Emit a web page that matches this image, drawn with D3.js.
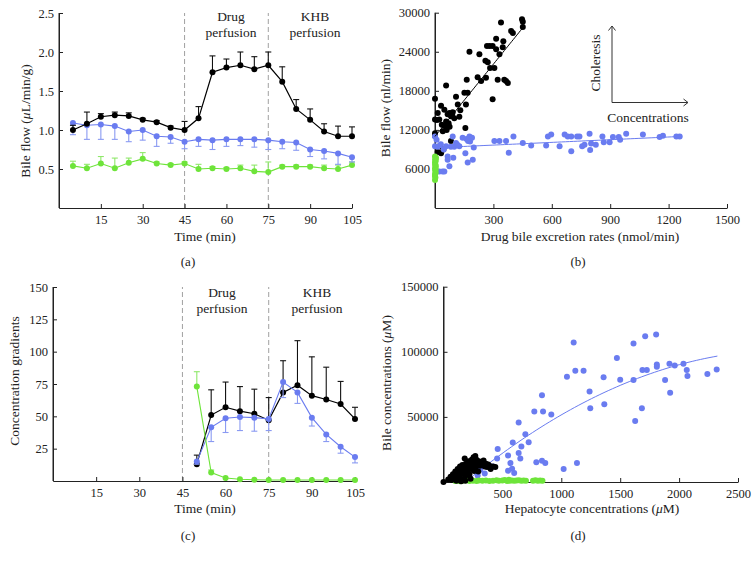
<!DOCTYPE html>
<html><head><meta charset="utf-8">
<script src="https://cdn.jsdelivr.net/npm/d3@7/dist/d3.min.js"></script>
<style>
body{margin:0;background:#fff;}
svg{display:block;background:#fff;}
text{font-family:"Liberation Serif","Times New Roman",serif;fill:#222;}
</style></head><body>
<svg id="chart" width="756" height="562"></svg>
<script>
// ---------- DATA ----------
// Panel (a): bile flow over time
const timesA = [5,10,15,20,25,30,35,40,45,50,55,60,65,70,75,80,85,90,95,100,105];
const blackA = [1.00,1.08,1.17,1.19,1.18,1.13,1.10,1.03,1.00,1.15,1.74,1.80,1.83,1.78,1.83,1.62,1.27,1.13,0.98,0.92,0.92];
const blackAerr = [0.06,0.15,0.04,0.04,0.04,0.02,0.02,0.02,0.11,0.15,0.21,0.11,0.17,0.16,0.17,0.19,0.12,0.14,0.10,0.13,0.12];
const blueA = [1.09,1.06,1.07,1.05,0.98,1.00,0.92,0.91,0.85,0.88,0.87,0.88,0.88,0.88,0.87,0.85,0.84,0.75,0.73,0.70,0.65];
const blueAerr = [0.15,0.18,0.19,0.17,0.13,0.13,0.13,0.08,0.09,0.09,0.12,0.09,0.08,0.10,0.12,0.09,0.10,0.09,0.10,0.14,0.06];
const greenA = [0.54,0.51,0.57,0.51,0.58,0.63,0.57,0.55,0.57,0.50,0.51,0.50,0.51,0.47,0.46,0.53,0.53,0.53,0.51,0.50,0.55];
const greenAerr = [0.06,0.05,0.09,0.13,0.06,0.08,0.02,0.02,0.02,0.06,0.02,0.02,0.04,0.08,0.13,0.02,0.02,0.02,0.04,0.05,0.04];
const xTicksA = [15,30,45,60,75,90,105];
const yTicksA = [0.5,1.0,1.5,2.0,2.5];

// Panel (b): bile flow vs drug excretion rate
const blackB = [[0,16800],[0,13600],[0,11500],[0,11100],[14,14600],[22,13600],[31,15700],[22,9500],[14,8600],[31,8400],[40,11800],[48,12600],[48,15100],[57,18800],[57,13300],[65,14400],[70,13000],[74,14600],[82,14100],[82,10300],[91,14700],[99,13800],[108,17100],[117,15900],[43,9000],[60,12000],[151,17700],[159,15900],[156,12300],[163,19700],[168,17700],[177,24000],[219,20100],[228,23600],[237,19500],[262,20000],[259,22600],[267,24900],[281,24900],[271,22400],[283,21500],[296,24900],[305,21500],[296,16700],[314,24400],[314,26000],[322,19700],[331,23600],[339,28500],[348,24700],[351,25600],[356,19700],[365,19500],[374,19200],[391,27200],[400,26900],[447,29000],[451,28600],[451,27800],[130,15000],[88,14300],[75,12500],[35,12800],[10,13500],[125,14000]];
const blueB = [[0,11000],[0,9500],[8,10500],[14,9400],[22,5600],[39,5600],[48,5600],[57,9500],[65,7900],[65,7400],[74,6400],[82,9400],[91,11000],[94,7700],[99,9400],[108,10000],[125,9500],[142,10800],[156,8400],[162,10600],[168,7000],[177,11000],[180,10200],[190,10800],[194,7400],[199,9300],[305,10300],[331,10300],[365,10300],[379,8500],[403,11000],[451,10000],[494,9600],[571,9600],[580,11000],[597,11300],[640,9500],[666,11300],[682,11000],[700,11000],[700,8700],[730,11000],[742,11000],[756,9500],[768,9700],[794,11400],[797,8900],[802,9900],[826,9700],[860,11000],[867,10100],[897,10100],[914,10900],[944,10900],[951,10500],[982,11400],[1068,11300],[1154,10900],[1171,11100],[1240,11000],[1257,11000],[30,9800],[45,9000],[115,9700],[170,10300]];
const greenB = [[0,4300],[2,4700],[0,5100],[3,5500],[1,5800],[0,6100],[4,6400],[2,6700],[0,7000],[3,7200],[1,7500],[5,7700],[0,7900],[2,5300],[4,6000],[1,6600],[3,7400],[0,4900]];
const fitBlackB = {from:0, to:455, coef:[11000, 37]};      // linear fit
const fitBlueB = {from:0, to:1257, coef:[9250, 1.38]};     // linear fit
const xTicksB = [300,600,900,1200,1500];
const yTicksB = [6000,12000,18000,24000,30000];

// Panel (c): concentration gradients
const timesC = [50,55,60,65,70,75,80,85,90,95,100,105];
const blackC = [13,51,57,54,52,47,68.5,74,66,63,59.5,48];
const blackCerr = [7,19.5,19.5,19,19,17.5,24.5,34.5,30,25,17.5,9];
const blueC = [15,41.5,48.5,49.5,49,48,76.5,68.5,49,36,26.5,18.5];
const blueCerr = [2,11,11,10.5,10.5,9,12,8.5,6.5,5.5,5,4.5];
const greenC = [73,6.5,2.3,1.3,1,0.8,0.8,0.8,0.8,0.8,0.8,0.8];
const greenCerr = [11.5,2,0,0,0,0,0,0,0,0,0,0];
const xTicksC = [15,30,45,60,75,90,105];
const yTicksC = [25,50,75,100,125,150];

// Panel (d): bile vs hepatocyte concentrations
const blueD = [[1105,107100],[1119,85500],[1189,85500],[1048,80900],[1359,80400],[1472,95200],[1500,78500],[1613,106400],[1613,78300],[1712,112000],[1689,86000],[1726,86000],[1805,113300],[1811,90300],[1811,88500],[1918,90800],[1963,89500],[1881,78300],[1924,68600],[2037,90800],[2065,86000],[2071,81400],[2240,82900],[2319,86500],[1240,69600],[1246,56600],[1365,59700],[1684,56600],[1627,46900],[836,66600],[771,54100],[845,54100],[915,51800],[695,36700],[723,30600],[661,27300],[638,45700],[588,30400],[638,22200],[652,18100],[548,20400],[460,25300],[455,18100],[568,14500],[582,10200],[548,8700],[600,7000],[788,15100],[836,16300],[864,14500],[1020,9900],[1133,14500],[313,9400],[350,6500],[290,5000],[420,12000]];
const blackD = [[0,0],[40,2000],[60,4000],[70,1500],[80,6000],[90,3000],[100,8000],[105,5000],[110,1000],[120,10000],[125,7000],[130,3500],[140,12000],[145,9000],[150,6000],[155,2000],[160,13000],[170,10500],[175,7500],[180,18000],[185,4500],[190,14000],[200,11000],[205,8000],[210,16000],[215,12500],[220,6000],[230,14500],[235,10000],[240,17000],[250,13000],[255,19000],[260,8500],[265,15500],[270,20000],[275,11500],[280,17000],[290,14000],[295,8000],[300,16000],[310,12500],[320,15000],[330,13500],[340,16500],[350,12000],[360,14000],[370,11500],[380,13500],[390,12500],[400,10000],[420,12000],[440,11500],[230,2500],[185,1000],[150,500]];
const greenD = [[100,800],[120,1200],[140,600],[160,1000],[190,1400],[220,800],[250,1000],[280,700],[300,1200],[330,900],[360,1100],[390,800],[420,1000],[450,1300],[470,900],[500,1100],[520,1500],[540,800],[555,1800],[560,1000],[580,1200],[600,900],[620,1100],[640,1400],[660,1000],[680,1200],[700,900],[760,1000],[780,1300],[800,900],[820,1100],[840,1000]];
const fitBlueD = {from:186, to:2325, coef:[-14300, 79.5, -0.01366]}; // quadratic fit
const xTicksD = [500,1000,1500,2000,2500];
const yTicksD = [50000,100000,150000];

// ---------- STYLE ----------
const C = {black:"#000", blue:"#6a7cf0", blueErr:"#8a9af2", green:"#6ee43a", greenErr:"#8fe86a", axis:"#222", dash:"#a0a0a0"};
const R = 3;

const svg = d3.select("#chart");

function axes(x, y, xt, yt, yfmt){
  const g = svg.append("g");
  const gx = g.append("g").attr("transform",`translate(0,${y.range()[0]})`)
    .call(d3.axisBottom(x).tickValues(xt).tickSize(-4).tickSizeOuter(0).tickPadding(7).tickFormat(d3.format("d")));
  const gy = g.append("g").attr("transform",`translate(${x.range()[0]},0)`)
    .call(d3.axisLeft(y).tickValues(yt).tickSize(-4).tickSizeOuter(0).tickPadding(5).tickFormat(yfmt));
  [gx,gy].forEach(a=>{
    a.attr("font-family",null).attr("font-size",null);
    a.selectAll("path,line").attr("stroke",C.axis).attr("stroke-width",1);
    a.selectAll("text").style("font-size","12.5px").attr("fill","#222");
  });
  g.append("line").attr("x1",x.range()[0]).attr("x2",x.range()[0]).attr("y1",y.range()[0]).attr("y2",y.range()[1]).attr("stroke",C.axis);
}

function series(x, y, times, vals, errs, dir, col, errCol, lw){
  const g = svg.append("g");
  errs.forEach((e,i)=>{
    if(e<=0) return;
    const cx = x(times[i]), y0 = y(vals[i]), y1 = y(vals[i]+dir*e);
    g.append("line").attr("x1",cx).attr("x2",cx).attr("y1",y0).attr("y2",y1).attr("stroke",errCol).attr("stroke-width",1.1);
    g.append("line").attr("x1",cx-3).attr("x2",cx+3).attr("y1",y1).attr("y2",y1).attr("stroke",errCol).attr("stroke-width",1.1);
  });
  g.append("path").datum(times.map((t,i)=>[t,vals[i]]))
    .attr("d",d3.line().x(d=>x(d[0])).y(d=>y(d[1])))
    .attr("fill","none").attr("stroke",col).attr("stroke-width",lw);
  g.selectAll("circle").data(times.map((t,i)=>[t,vals[i]])).join("circle")
    .attr("cx",d=>x(d[0])).attr("cy",d=>y(d[1])).attr("r",R).attr("fill",col);
}

function scatter(x, y, pts, col){
  svg.append("g").selectAll("circle").data(pts).join("circle")
    .attr("cx",d=>x(d[0])).attr("cy",d=>y(d[1])).attr("r",R).attr("fill",col);
}

function fit(x, y, f, col, lw){
  const xs = d3.range(60+1).map(i=>f.from + (f.to-f.from)*i/60);
  const pts = xs.map(v=>[v, f.coef.reduce((s,c,k)=>s+c*Math.pow(v,k),0)]);
  svg.append("path").datum(pts).attr("d",d3.line().x(d=>x(d[0])).y(d=>y(d[1])))
    .attr("fill","none").attr("stroke",col).attr("stroke-width",lw);
}

function vdash(x, y, t){
  svg.append("line").attr("x1",x(t)).attr("x2",x(t)).attr("y1",y.range()[0]).attr("y2",y.range()[1])
    .attr("stroke",C.dash).attr("stroke-width",1).attr("stroke-dasharray","5,3");
}

function text(x, y, s, opts={}){
  const t = svg.append("text").attr("x",x).attr("y",y).attr("text-anchor",opts.anchor||"middle")
    .style("font-size",(opts.size||13.5)+"px");
  if(opts.rotate) t.attr("transform",`rotate(-90,${x},${y})`);
  const parts = s.split("μ");
  parts.forEach((p,i)=>{
    if(i>0) t.append("tspan").style("font-style","italic").text("μ");
    t.append("tspan").text(p);
  });
  return t;
}

// ---------- PANEL (a) ----------
{
  const x = d3.scaleLinear().domain([0,105]).range([59,352]);
  const y = d3.scaleLinear().domain([0,2.5]).range([208,13]);
  vdash(x,y,45); vdash(x,y,75);
  axes(x,y,xTicksA,yTicksA,d3.format(".1f"));
  series(x,y,timesA,greenA,greenAerr,1,C.green,C.greenErr,1.1);
  series(x,y,timesA,blueA,blueAerr,-1,C.blue,C.blueErr,1.1);
  series(x,y,timesA,blackA,blackAerr,1,C.black,"#111",1.2);
  text(231,21,"Drug"); text(231,37,"perfusion");
  text(315,21,"KHB"); text(315,37,"perfusion");
  text(205,241,"Time (min)");
  text(30,121,"Bile flow (μL/min/g)",{rotate:true});
  text(188,266,"(a)",{size:13});
}

// ---------- PANEL (b) ----------
{
  const x = d3.scaleLinear().domain([0,1500]).range([435,727]);
  const y = d3.scaleLinear().domain([0,30000]).range([208,12.7]);
  axes(x,y,xTicksB,yTicksB,d3.format("d"));
  scatter(x,y,blackB,C.black);
  scatter(x,y,blueB,C.blue);
  fit(x,y,fitBlackB,"#000",1);
  fit(x,y,fitBlueB,C.blue,1);
  scatter(x,y,greenB,C.green);
  const ax0 = 612, ay0 = 102.5, ayTop = 26, axRight = 688;
  const arrow = svg.append("g").attr("stroke","#333").attr("stroke-width",1).attr("fill","none");
  arrow.append("path").attr("d",`M${ax0},${ay0}V${ayTop}M${ax0-3.5},${ayTop+4.5}L${ax0},${ayTop}L${ax0+3.5},${ayTop+4.5}`);
  arrow.append("path").attr("d",`M${ax0},${ay0}H${axRight}M${axRight-4.5},${ay0-3.5}L${axRight},${ay0}L${axRight-4.5},${ay0+3.5}`);
  text(600,63,"Choleresis",{rotate:true});
  text(648,122,"Concentrations");
  text(580,241,"Drug bile excretion rates (nmol/min)");
  text(390,108,"Bile flow (nl/min)",{rotate:true});
  text(578,266,"(b)",{size:13});
}

// ---------- PANEL (c) ----------
{
  const x = d3.scaleLinear().domain([0,105]).range([53,355]);
  const y = d3.scaleLinear().domain([0,150]).range([481,287]);
  vdash(x,y,45); vdash(x,y,75);
  axes(x,y,xTicksC,yTicksC,d3.format("d"));
  series(x,y,timesC,blackC,blackCerr,1,C.black,"#111",1.2);
  series(x,y,timesC,blueC,blueCerr,-1,C.blue,C.blueErr,1.1);
  series(x,y,timesC,greenC,greenCerr,1,C.green,C.greenErr,1.1);
  text(222,297,"Drug"); text(222,313,"perfusion");
  text(317,297,"KHB"); text(317,313,"perfusion");
  text(205,513,"Time (min)");
  text(19,381,"Concentration gradients",{rotate:true});
  text(188,540,"(c)",{size:13});
}

// ---------- PANEL (d) ----------
{
  const x = d3.scaleLinear().domain([0,2500]).range([443.5,738]);
  const y = d3.scaleLinear().domain([0,150000]).range([482,286.7]);
  axes(x,y,xTicksD,yTicksD,d3.format("d"));
  scatter(x,y,blueD,C.blue);
  fit(x,y,fitBlueD,C.blue,1);
  scatter(x,y,greenD,C.green);
  scatter(x,y,blackD,C.black);
  text(592,513,"Hepatocyte concentrations (μM)");
  text(391,383,"Bile concentrations (μM)",{rotate:true});
  text(578,540,"(d)",{size:13});
}
</script>
</body></html>
